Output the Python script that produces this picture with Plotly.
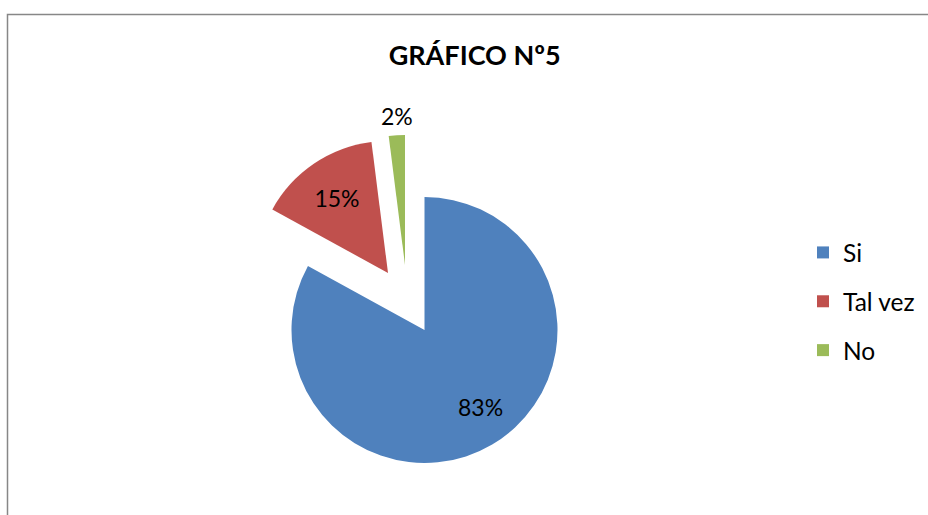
import plotly.graph_objects as go

# ---- data ----
categories = ["Si", "Tal vez", "No"]
values = [83, 15, 2]
colors = ["#4F81BD", "#C0504D", "#9BBB59"]
title_text = "GRÁFICO Nº5"

# ---- layout helpers (pixel geometry of the 928x515 page) ----
W, H = 928, 515
FONT = "Lato, 'Open Sans', sans-serif"
# centre (apex) and radius of each exploded slice, in page pixels
slice_geom = [(424.5, 330.0, 133.0), (388.0, 273.0, 132.0), (405.0, 265.0, 130.0)]
# where each percentage label sits: None -> let the pie place it inside
label_pos = [(480.0, 407.0), None, (397.0, 116.0)]

total = sum(values)
pct_text = [f"{round(100 * v / total)}%" for v in values]


def dom(cx, cy, r):
    return dict(x=[(cx - r) / W, (cx + r) / W],
                y=[(H - cy - r) / H, (H - cy + r) / H])


fig = go.Figure()

# one drawn trace per slice so each can be offset like the original explosion
for i, cat in enumerate(categories):
    cx, cy, r = slice_geom[i]
    own_text = label_pos[i] is None
    fig.add_trace(go.Pie(
        labels=categories,
        values=values,
        sort=False,
        direction="clockwise",
        rotation=0,
        marker=dict(colors=[colors[j] if j == i else "rgba(0,0,0,0)" for j in range(len(categories))],
                    line=dict(width=0)),
        texttemplate=["%{percent:.0%}" if (j == i and own_text) else "" for j in range(len(categories))],
        textposition=["inside" if (j == i and own_text) else "none" for j in range(len(categories))],
        textfont=dict(family=FONT, size=23, color="black"),
        insidetextorientation="horizontal",
        domain=dom(cx, cy, r),
        showlegend=False,
        hoverinfo="skip",
    ))
    if not own_text:
        fig.add_annotation(x=label_pos[i][0] / W, y=1 - label_pos[i][1] / H,
                           xref="paper", yref="paper", text=pct_text[i],
                           showarrow=False, xanchor="center", yanchor="middle",
                           font=dict(family=FONT, size=23, color="black"))

# legend entries (zero-size pies that only feed the legend)
for i, cat in enumerate(categories):
    fig.add_trace(go.Pie(
        labels=[cat],
        values=[values[i]],
        marker=dict(colors=[colors[i]], line=dict(width=0)),
        textinfo="none",
        domain=dict(x=[0.0, 0.00001], y=[0.0, 0.00001]),
        legendgroup=cat,
        showlegend=True,
        hoverinfo="skip",
    ))

# chart frame
fig.add_shape(type="rect", xref="paper", yref="paper",
              x0=7.5 / W, x1=1.05, y0=-0.05, y1=1 - 14.5 / H,
              line=dict(color="#878787", width=1.5), fillcolor="rgba(0,0,0,0)")

fig.update_layout(
    width=W, height=H,
    margin=dict(l=0, r=0, t=0, b=0),
    paper_bgcolor="white",
    plot_bgcolor="white",
    title=dict(text=title_text, x=474.7 / W, xanchor="center",
               y=1 - 56 / H, yanchor="middle",
               font=dict(family=FONT, size=27, color="black", weight="bold")),
    legend=dict(x=803 / W, xanchor="left", y=1 - 230 / H, yanchor="top",
                font=dict(family=FONT, size=24.5, color="black"),
                traceorder="grouped", tracegroupgap=14,
                bgcolor="rgba(0,0,0,0)"),
    font=dict(family=FONT),
)

fig.write_html("out.html")
